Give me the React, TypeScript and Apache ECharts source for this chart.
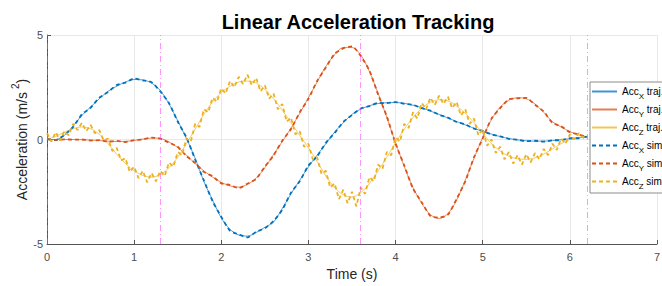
import React, { useEffect, useRef } from "react";
import * as echarts from "echarts";

const T10 = [0, 0.1, 0.2, 0.3, 0.4, 0.5, 0.6, 0.7, 0.8, 0.9, 1.0, 1.1, 1.2, 1.3, 1.4, 1.5, 1.6, 1.7, 1.8, 1.9, 2.0, 2.1, 2.2, 2.3, 2.4, 2.5, 2.6, 2.7, 2.8, 2.9, 3.0, 3.1, 3.2, 3.3, 3.4, 3.5, 3.6, 3.7, 3.8, 3.9, 4.0, 4.1, 4.2, 4.3, 4.4, 4.5, 4.6, 4.7, 4.8, 4.9, 5.0, 5.1, 5.2, 5.3, 5.4, 5.5, 5.6, 5.7, 5.8, 5.9, 6.0, 6.1, 6.2];

const T05 = [0, 0.05, 0.1, 0.15, 0.2, 0.25, 0.3, 0.35, 0.4, 0.45, 0.5, 0.55, 0.6, 0.65, 0.7, 0.75, 0.8, 0.85, 0.9, 0.95, 1.0, 1.05, 1.1, 1.15, 1.2, 1.25, 1.3, 1.35, 1.4, 1.45, 1.5, 1.55, 1.6, 1.65, 1.7, 1.75, 1.8, 1.85, 1.9, 1.95, 2.0, 2.05, 2.1, 2.15, 2.2, 2.25, 2.3, 2.35, 2.4, 2.45, 2.5, 2.55, 2.6, 2.65, 2.7, 2.75, 2.8, 2.85, 2.9, 2.95, 3.0, 3.05, 3.1, 3.15, 3.2, 3.25, 3.3, 3.35, 3.4, 3.45, 3.5, 3.55, 3.6, 3.65, 3.7, 3.75, 3.8, 3.85, 3.9, 3.95, 4.0, 4.05, 4.1, 4.15, 4.2, 4.25, 4.3, 4.35, 4.4, 4.45, 4.5, 4.55, 4.6, 4.65, 4.7, 4.75, 4.8, 4.85, 4.9, 4.95, 5.0, 5.05, 5.1, 5.15, 5.2, 5.25, 5.3, 5.35, 5.4, 5.45, 5.5, 5.55, 5.6, 5.65, 5.7, 5.75, 5.8, 5.85, 5.9, 5.95, 6.0, 6.05, 6.1, 6.15, 6.2];

const X_TRAJ = [0, 0, 0.2, 0.65, 1.15, 1.55, 1.95, 2.3, 2.55, 2.75, 2.87, 2.85, 2.7, 2.35, 1.7, 0.9, 0.05, -0.9, -2.0, -2.9, -3.75, -4.3, -4.57, -4.62, -4.45, -4.2, -3.95, -3.3, -2.6, -1.95, -1.3, -0.75, -0.2, 0.35, 0.8, 1.2, 1.45, 1.62, 1.72, 1.76, 1.77, 1.73, 1.64, 1.52, 1.36, 1.2, 1.03, 0.86, 0.7, 0.54, 0.39, 0.26, 0.14, 0.05, -0.02, -0.06, -0.08, -0.08, -0.05, -0.01, 0.04, 0.08, 0.12];

const Y_TRAJ = [0, 0, 0, 0, -0.01, -0.03, -0.05, -0.08, -0.1, -0.09, -0.05, 0.02, 0.07, 0.05, -0.12, -0.38, -0.75, -1.15, -1.5, -1.8, -2.05, -2.22, -2.28, -2.15, -1.85, -1.35, -0.72, -0.1, 0.55, 1.25, 2.0, 2.75, 3.5, 4.05, 4.4, 4.4, 4.05, 3.25, 2.2, 1.05, -0.15, -1.3, -2.3, -3.05, -3.6, -3.78, -3.55, -2.9, -1.95, -0.9, 0.1, 0.95, 1.55, 1.88, 2.0, 1.95, 1.7, 1.3, 0.85, 0.6, 0.38, 0.22, 0.12];

const Z_TRAJ = [0, 0.15, 0.35, 0.52, 0.6, 0.52, 0.25, -0.2, -0.7, -1.15, -1.5, -1.72, -1.8, -1.68, -1.35, -0.85, -0.2, 0.5, 1.2, 1.8, 2.25, 2.55, 2.75, 2.8, 2.7, 2.4, 1.95, 1.4, 0.8, 0.2, -0.4, -1.05, -1.75, -2.3, -2.65, -2.75, -2.55, -2.1, -1.5, -0.85, -0.15, 0.5, 1.05, 1.5, 1.78, 1.9, 1.85, 1.6, 1.25, 0.8, 0.3, -0.2, -0.55, -0.8, -0.92, -0.95, -0.88, -0.7, -0.45, -0.2, 0.0, 0.1, 0.15];

const X_SIM = [0.02, -0.03, 0.22, 0.6, 1.2, 1.52, 2.0, 2.27, 2.6, 2.72, 2.92, 2.83, 2.74, 2.3, 1.74, 0.86, 0.1, -0.95, -1.96, -2.95, -3.7, -4.36, -4.54, -4.68, -4.42, -4.25, -3.9, -3.36, -2.55, -2.0, -1.25, -0.8, -0.16, 0.31, 0.84, 1.17, 1.48, 1.6, 1.75, 1.74, 1.79, 1.71, 1.66, 1.5, 1.38, 1.18, 1.05, 0.84, 0.72, 0.52, 0.41, 0.24, 0.15, 0.03, -0.01, -0.08, -0.06, -0.1, -0.04, -0.03, 0.06, 0.06, 0.14];

const Y_SIM = [0.02, -0.02, 0.01, -0.01, 0.0, -0.05, -0.03, -0.1, -0.07, -0.12, -0.03, 0.0, 0.09, 0.04, -0.15, -0.35, -0.79, -1.12, -1.55, -1.76, -2.1, -2.18, -2.33, -2.12, -1.88, -1.3, -0.76, -0.06, 0.5, 1.3, 1.95, 2.8, 3.45, 4.1, 4.36, 4.46, 4.0, 3.3, 2.15, 1.1, -0.2, -1.25, -2.35, -3.0, -3.66, -3.74, -3.6, -2.85, -2.0, -0.85, 0.05, 1.0, 1.5, 1.92, 1.97, 1.99, 1.66, 1.34, 0.8, 0.63, 0.35, 0.25, 0.1];

const Z_SIM = [0.3, -0.1, 0.35, -0.05, 0.4, 0.2, 0.75, 0.45, 0.8, 0.4, 0.7, 0.3, 0.45, -0.05, 0.05, -0.55, -0.4, -1.0, -0.9, -1.55, -1.3, -1.85, -1.5, -2.05, -1.6, -2.0, -1.5, -1.75, -1.1, -1.3, -0.6, -0.75, 0.05, -0.1, 0.75, 0.6, 1.45, 1.3, 2.0, 1.8, 2.45, 2.2, 2.8, 2.5, 3.0, 2.65, 3.1, 2.6, 2.95, 2.3, 2.6, 1.95, 2.2, 1.45, 1.7, 0.85, 1.05, 0.25, 0.4, -0.35, -0.2, -0.95, -0.85, -1.65, -1.5, -2.3, -2.1, -2.85, -2.4, -3.05, -2.5, -3.2, -2.3, -2.6, -1.8, -2.0, -1.2, -1.4, -0.6, -0.75, 0.1, -0.1, 0.75, 0.55, 1.3, 1.0, 1.75, 1.45, 2.0, 1.65, 2.1, 1.7, 2.05, 1.5, 1.8, 1.15, 1.45, 0.75, 1.0, 0.2, 0.5, -0.3, 0.0, -0.65, -0.35, -0.95, -0.6, -1.15, -0.75, -1.2, -0.7, -1.1, -0.65, -0.95, -0.45, -0.75, -0.2, -0.5, 0.05, -0.2, 0.25, 0.0, 0.3, 0.1, 0.2];

const EVENT_TIMES = [0, 1.3, 3.6, 6.2];
const X_TICKS = [0, 1, 2, 3, 4, 5, 6, 7];
const Y_TICKS = [-5, 0, 5];

const FONT = "'Liberation Sans', Arial, Helvetica, sans-serif";
const BLUE = "#0072BD";
const RED = "#D95319";
const YELLOW = "#EDB120";

function pairs(t: number[], v: number[]) {
  return t.map((x, i) => [x, v[i]]);
}

export default function App() {
  const ref = useRef<HTMLDivElement>(null);
  useEffect(() => {
    const chart = echarts.init(ref.current!, null, { renderer: "svg" });
    const trajStyle = (c: string) => ({ color: c, width: 0.9, type: "solid" as const, opacity: 0.75 });
    const simStyle = (c: string) => ({ color: c, width: 1.8, type: [4, 3] as any });
    chart.setOption({
      animation: false,
      backgroundColor: "#ffffff",
      title: {
        text: "Linear Acceleration Tracking",
        left: 353,
        textAlign: "center",
        top: 7,
        textStyle: { fontFamily: FONT, fontSize: 20, fontWeight: "bold", color: "#000" },
      },
      grid: { left: 47, right: 5, top: 35, bottom: 42, containLabel: false, outerBoundsMode: "none" },
      legend: {
        orient: "vertical",
        left: 590,
        top: 82,
        itemWidth: 25,
        itemHeight: 10,
        itemGap: 4,
        padding: [4, 4, 3, 1],
        backgroundColor: "#ffffff",
        borderColor: "#8c8c8c",
        borderWidth: 1,
        borderRadius: 0,
        itemStyle: { opacity: 0 },
        data: ["AccX traj.", "AccY traj.", "AccZ traj.", "AccX sim", "AccY sim", "AccZ sim"],
        formatter: (name: string) => {
          const m = name.match(/^Acc(\w) (.*)$/);
          if (!m) return name;
          return `{a|Acc}{s|${m[1]}}{a| ${m[2]}}`;
        },
        textStyle: {
          fontFamily: FONT,
          fontSize: 10,
          color: "#000",
          rich: {
            a: { fontFamily: FONT, fontSize: 10, color: "#000", lineHeight: 11, verticalAlign: "top" },
            s: { fontFamily: FONT, fontSize: 8, color: "#000", lineHeight: 8, padding: [6, 0, 0, 0], verticalAlign: "top" },
          },
        },
      },
      xAxis: {
        type: "value",
        min: X_TICKS[0],
        max: X_TICKS[X_TICKS.length - 1],
        interval: 1,
        name: "Time (s)",
        nameLocation: "middle",
        nameGap: 23,
        nameMoveOverlap: false,
        nameTextStyle: { fontFamily: FONT, fontSize: 14, color: "#262626" },
        axisLine: { show: true, onZero: false, lineStyle: { color: "#555", width: 1 } },
        axisTick: { show: true, inside: true, length: 4, lineStyle: { color: "#555" } },
        axisLabel: { fontFamily: FONT, fontSize: 11, color: "#4d4d4d", margin: 7 },
        splitLine: { show: true, lineStyle: { color: "#e8e8e8", width: 1 } },
      },
      yAxis: {
        type: "value",
        min: Y_TICKS[0],
        max: Y_TICKS[Y_TICKS.length - 1],
        interval: 5,
        name: "{a|Acceleration (m/s}{p|2}{a|)}",
        nameLocation: "middle",
        nameRotate: 90,
        nameGap: 18,
        nameMoveOverlap: false,
        nameTextStyle: {
          fontFamily: FONT,
          fontSize: 14,
          color: "#262626",
          rich: {
            a: { fontFamily: FONT, fontSize: 14, color: "#262626", lineHeight: 16, verticalAlign: "bottom" },
            p: { fontFamily: FONT, fontSize: 10, color: "#262626", lineHeight: 12, padding: [0, 0, 9, 3], verticalAlign: "bottom" },
          },
        },
        axisLine: { show: true, onZero: false, lineStyle: { color: "#555", width: 1 } },
        axisTick: { show: true, inside: true, length: 4, lineStyle: { color: "#555" } },
        axisLabel: { fontFamily: FONT, fontSize: 11, color: "#4d4d4d", margin: 4 },
        splitLine: { show: true, lineStyle: { color: "#e8e8e8", width: 1 } },
      },
      series: [
        {
          name: "AccX traj.", type: "line", data: pairs(T10, X_TRAJ), smooth: 0.3, symbol: "none",
          lineStyle: trajStyle(BLUE), itemStyle: { color: BLUE }, z: 2,
          markLine: {
            silent: true, symbol: "none", label: { show: false },
            lineStyle: { color: "#ff40ff", width: 1, type: [6, 3, 1, 3] as any, opacity: 0.55 },
            data: EVENT_TIMES.map((t) => ({ xAxis: t })),
          },
        },
        { name: "AccY traj.", type: "line", data: pairs(T10, Y_TRAJ), smooth: 0.3, symbol: "none", lineStyle: trajStyle(RED), itemStyle: { color: RED }, z: 2 },
        { name: "AccZ traj.", type: "line", data: pairs(T10, Z_TRAJ), smooth: 0.3, symbol: "none", lineStyle: trajStyle(YELLOW), itemStyle: { color: YELLOW }, z: 2 },
        { name: "AccX sim", type: "line", data: pairs(T10, X_SIM), smooth: 0.2, symbol: "none", lineStyle: simStyle(BLUE), itemStyle: { color: BLUE }, z: 3 },
        { name: "AccY sim", type: "line", data: pairs(T10, Y_SIM), smooth: 0.2, symbol: "none", lineStyle: simStyle(RED), itemStyle: { color: RED }, z: 3 },
        { name: "AccZ sim", type: "line", data: pairs(T05, Z_SIM), symbol: "none", lineStyle: simStyle(YELLOW), itemStyle: { color: YELLOW }, z: 3 },
      ],
    });
    return () => chart.dispose();
  }, []);
  return <div ref={ref} style={{ position: "fixed", left: 0, top: 0, width: 662, height: 286 }} />;
}
